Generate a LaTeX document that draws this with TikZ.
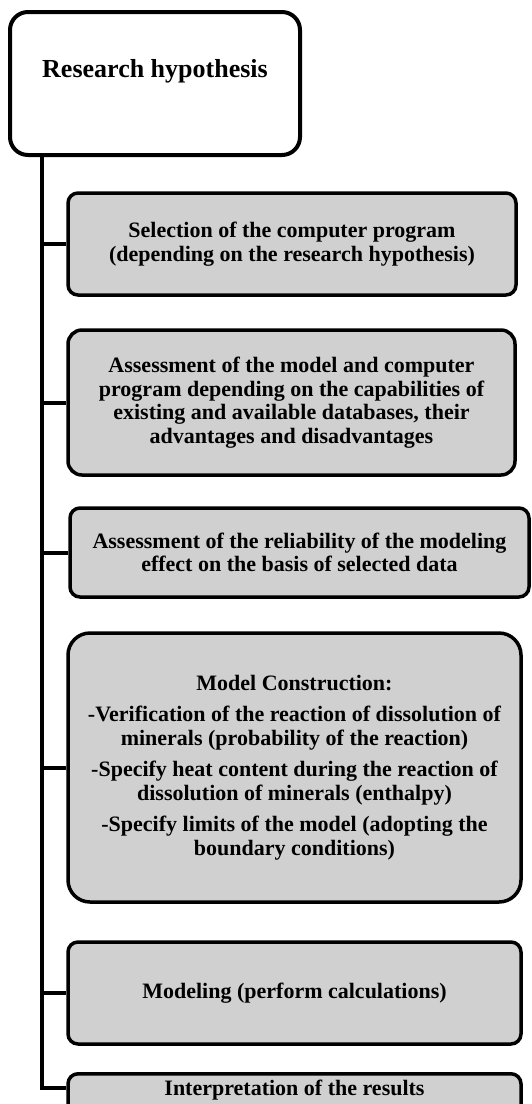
\documentclass[tikz,border=0pt]{standalone}
\usepackage{fontspec}
\setmainfont{Liberation Serif}
\definecolor{boxgray}{RGB}{208,208,208}
\begin{document}
\begin{tikzpicture}[x=1pt,y=-1pt,
    stage/.style={draw, line width=3.5pt, fill=boxgray, rounded corners=10pt, align=center, inner sep=0pt, font=\bfseries\fontsize{22}{23.5}\selectfont},
    link/.style={line width=4pt}]
  \useasboundingbox (0,0) rectangle (531,1104);
  \clip (0,0) rectangle (531,1104);
  \node[draw, line width=4pt, fill=white, rounded corners=18pt, minimum width=290pt, minimum height=143pt, inner sep=0pt, text height=17pt, text depth=30pt, font=\bfseries\fontsize{26}{30}\selectfont] (hyp) at (155,83.5) {Research hypothesis};
  \node[stage, minimum width=448pt, minimum height=102pt] (sel) at (292,244) {Selection of the computer program\\(depending on the research hypothesis)};
  \node[stage, rounded corners=14pt, minimum width=447pt, minimum height=145pt] (assess) at (291.5,402.5) {Assessment of the model and computer\\program depending on the capabilities of\\existing and available databases, their\\advantages and disadvantages};
  \node[stage, minimum width=459pt, minimum height=89pt] (reli) at (299.5,552.5) {Assessment of the reliability of the modeling\\effect on the basis of selected data};
  \node[stage, rounded corners=22pt, minimum width=453pt, minimum height=269pt] (model) at (294.5,767.5) {Model Construction:\\[8pt]-Verification of the reaction of dissolution of\\minerals (probability of the reaction)\\[8pt]-Specify heat content during the reaction of\\dissolution of minerals (enthalpy)\\[8pt]-Specify limits of the model (adopting the\\boundary conditions)};
  \node[stage, minimum width=453pt, minimum height=102pt] (calc) at (294.5,993) {Modeling (perform calculations)};
  \node[stage, anchor=north, minimum width=453pt, inner ysep=7pt, text height=15pt, text depth=25pt] (interp) at (294.5,1072) {Interpretation of the results};
  % trunk and branches
  \coordinate (trunk) at (42,0);
  \draw[link] (hyp.south -| trunk) |- ([yshift=-16pt]interp.north west);
  \foreach \b in {sel,assess,reli,model,calc}
    \draw[link] (\b.west -| trunk) -- (\b.west);
\end{tikzpicture}
\end{document}
